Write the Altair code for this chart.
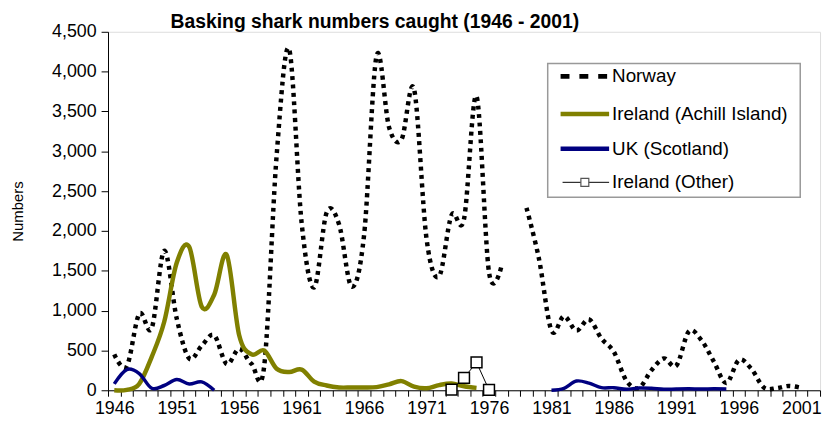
import altair as alt
import pandas as pd

# ---------------- data ----------------
years = list(range(1946, 2002))
norway = [450, 300, 960, 780, 1750, 900, 400, 560, 690, 330,
          520, 330, 300, 2950, 4280, 2100, 1290, 2230, 2080, 1300,
          1950, 4200, 3300, 3150, 3780, 1900, 1430, 2200, 2150, 3690,
          1480, 1560, None, 2290, 1650, 750, 930, 750, 890, 650,
          480, 120, 30, 250, 400, 310, 740, 630, 360, 90,
          380, 270, 35, 25, 55, 30]

achill_years = list(range(1946, 1976))
achill = [0, 5, 80, 420, 860, 1600, 1800, 1050, 1200, 1700,
          690, 450, 500, 270, 230, 260, 110, 60, 35, 35,
          35, 40, 75, 115, 45, 25, 65, 85, 50, 30]

uk_years_early = list(range(1946, 1955))
uk_early = [80, 260, 210, 25, 60, 135, 80, 105, 0]
uk_years_late = list(range(1981, 1996))
uk_late = [0, 25, 116, 90, 33, 33, 12, 29, 25, 12, 16, 18, 15, 18, 16]

other_years = [1973, 1974, 1975, 1976]
other = [8, 155, 350, 5]

series_names = ["Norway", "Ireland (Achill Island)", "UK (Scotland)", "Ireland (Other)"]
title_text = "Basking shark numbers caught (1946 - 2001)"
y_ticks = list(range(0, 4501, 500))

# ---------------- tables ----------------
rows = []
for yr, v in zip(years, norway):
    if v is not None:
        rows.append({"year": yr, "value": v, "seg": "a" if yr < 1978 else "b"})
df_norway = pd.DataFrame(rows)
df_achill = pd.DataFrame({"year": achill_years, "value": achill})
df_uk = pd.DataFrame(
    [{"year": y, "value": v, "seg": "a"} for y, v in zip(uk_years_early, uk_early)]
    + [{"year": y, "value": v, "seg": "b"} for y, v in zip(uk_years_late, uk_late)])
df_other = pd.DataFrame({"year": other_years, "value": other})

# ---------------- geometry ----------------
W, H = 719, 362
FONT = "Liberation Sans"
half_band = W / 57 / 2

xaxis = alt.Axis(
    values=[1945.5 + i for i in range(58)],
    labelExpr="((datum.value + 0.5 - 1946) % 5 == 0 && datum.value < 2001) ? format(datum.value + 0.5, 'd') : ''",
    labelOffset=half_band, tickSize=6, labelPadding=3, labelFontSize=18,
    labelFont=FONT, labelColor="black", labelOverlap=False, labelFlush=False,
    labelBound=False, labelAngle=0, domainColor="black", tickColor="black",
    grid=False, title=None)
yaxis = alt.Axis(
    values=y_ticks, format=",d", tickSize=7, labelPadding=5, labelFontSize=18,
    labelFont=FONT, labelColor="black", grid=False, title="Numbers",
    titleFontSize=15, titleFontWeight="normal", titleFont=FONT, titleColor="black",
    titleAngle=-90, titleX=-91, titleY=H / 2, titleAlign="center",
    titleBaseline="middle", domainColor="black", tickColor="black")

X = alt.X("year:Q", scale=alt.Scale(domain=[1945.5, 2002.5], nice=False, zero=False), axis=xaxis)
Y = alt.Y("value:Q", scale=alt.Scale(domain=[0, 4500], nice=False, zero=True), axis=yaxis)

norway_line = alt.Chart(df_norway).mark_line(
    color="black", strokeWidth=4.5, strokeDash=[4, 4.5], interpolate="cardinal"
).encode(x=X, y=Y, detail="seg:N")

achill_line = alt.Chart(df_achill).mark_line(
    color="#808000", strokeWidth=4.5, interpolate="cardinal"
).encode(x=X, y=Y)

uk_line = alt.Chart(df_uk).mark_line(
    color="#000080", strokeWidth=3.5, interpolate="cardinal"
).encode(x=X, y=Y, detail="seg:N")

other_line = alt.Chart(df_other).mark_line(color="black", strokeWidth=1).encode(x=X, y=Y)
other_pts = alt.Chart(df_other).mark_point(
    shape="square", size=120, filled=True, fill="white", stroke="black", strokeWidth=1.5, opacity=1
).encode(x=X, y=Y)

# ---------------- title ----------------
one = pd.DataFrame({"k": [0]})
title = alt.Chart(one).mark_text(
    text=title_text, font=FONT, fontSize=19.5, fontWeight="bold", align="center",
    baseline="alphabetic", color="black"
).encode(x=alt.value(269.5), y=alt.value(-4))

# ---------------- legend ----------------
lx0, lx1, ly0, ly1 = 444, 699, 32, 167
sym0, sym1, tx = 457, 506, 509
ey = [45, 83, 118, 152]

legend_box = alt.Chart(one).mark_rect(
    fill="white", stroke="#999999", strokeWidth=1.5
).encode(x=alt.value(lx0), x2=alt.value(lx1), y=alt.value(ly0), y2=alt.value(ly1))

leg_norway = alt.Chart(one).mark_rule(
    color="black", strokeWidth=5, strokeDash=[9, 10], strokeCap="butt"
).encode(x=alt.value(sym0), x2=alt.value(sym1 - 2), y=alt.value(ey[0]))
leg_achill = alt.Chart(one).mark_rule(color="#808000", strokeWidth=4.5).encode(
    x=alt.value(sym0), x2=alt.value(sym1), y=alt.value(ey[1]))
leg_uk = alt.Chart(one).mark_rule(color="#000080", strokeWidth=4.5).encode(
    x=alt.value(sym0), x2=alt.value(sym1), y=alt.value(ey[2]))
leg_other = alt.Chart(one).mark_rule(color="black", strokeWidth=1).encode(
    x=alt.value(sym0 + 2), x2=alt.value(sym1), y=alt.value(ey[3]))
leg_other_pt = alt.Chart(one).mark_point(
    shape="square", size=64, filled=True, fill="white", stroke="#555555", strokeWidth=1.2, opacity=1
).encode(x=alt.value((sym0 + sym1) / 2), y=alt.value(ey[3]))

leg_texts = [
    alt.Chart(one).mark_text(
        text=name, font=FONT, fontSize=19, align="left", baseline="middle", color="black"
    ).encode(x=alt.value(tx), y=alt.value(yy))
    for name, yy in zip(series_names, ey)
]

chart = alt.layer(
    norway_line, achill_line, uk_line, other_line, other_pts, title,
    legend_box, leg_norway, leg_achill, leg_uk, leg_other, leg_other_pt, *leg_texts
).properties(
    width=W, height=H,
    autosize=alt.AutoSizeParams(type="none"),
    padding={"left": 101, "top": 22, "right": 4, "bottom": 30},
).configure_view(stroke=None).configure(background="white")

chart.save("out.html", embed_options={"renderer": "svg", "actions": False})
